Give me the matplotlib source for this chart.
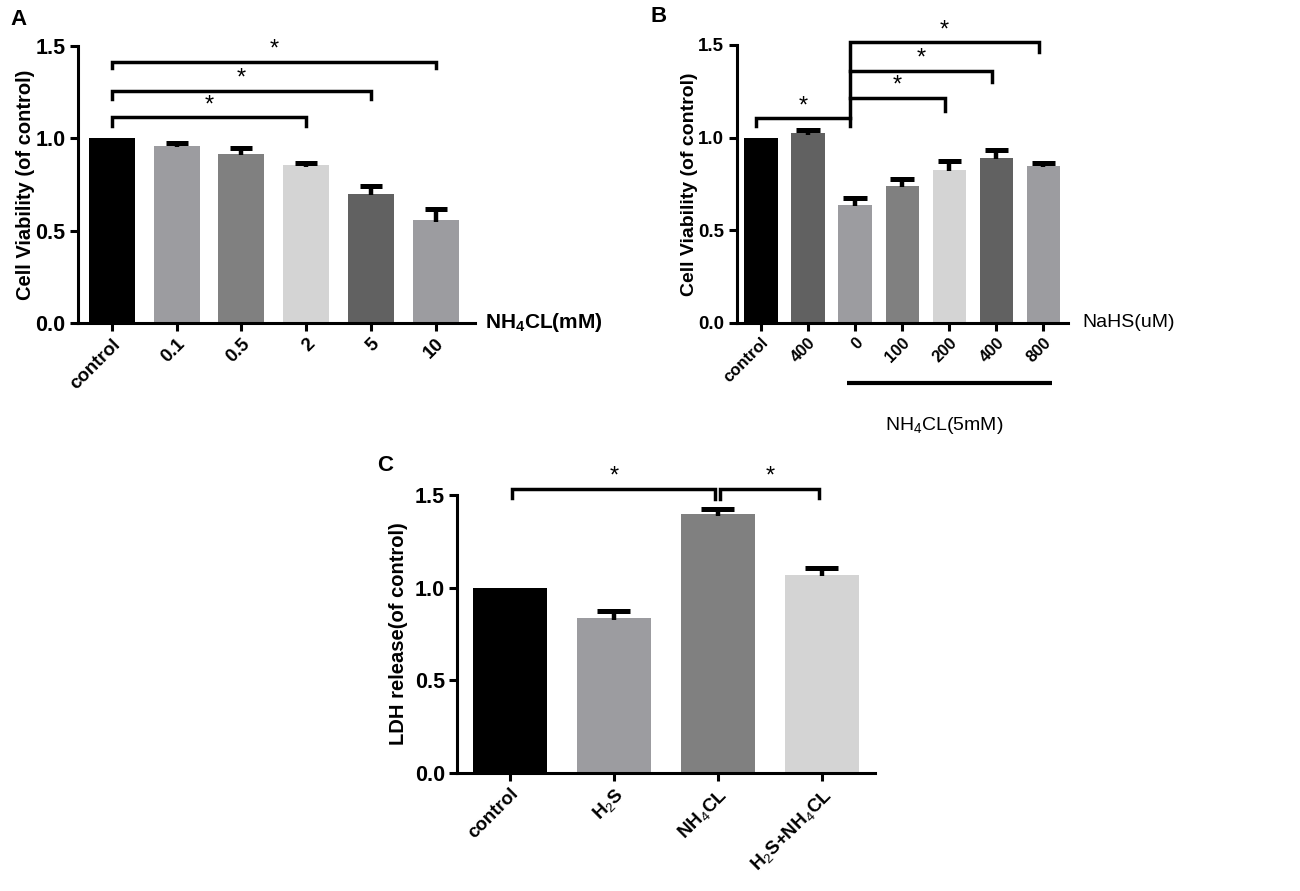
import matplotlib
matplotlib.use("Agg")
import matplotlib.pyplot as plt

plt.rcParams['font.family'] = ['Liberation Sans', 'DejaVu Sans']
plt.rcParams['mathtext.fontset'] = 'custom'
plt.rcParams['mathtext.rm'] = 'Liberation Sans'
plt.rcParams['mathtext.bf'] = 'Liberation Sans:bold'
plt.rcParams['mathtext.it'] = 'Liberation Sans:italic'

# ---- data ----
a_labels = ['control', '0.1', '0.5', '2', '5', '10']
a_values = [1.0, 0.96, 0.915, 0.853, 0.70, 0.555]
a_errors = [0.0, 0.016, 0.032, 0.012, 0.04, 0.062]
a_colors = ['#000000', '#9c9ca0', '#808080', '#d4d4d4', '#616161', '#9c9ca0']

b_labels = ['control', '400', '0', '100', '200', '400', '800']
b_values = [1.0, 1.022, 0.638, 0.74, 0.827, 0.89, 0.849]
b_errors = [0.0, 0.018, 0.036, 0.036, 0.045, 0.042, 0.011]
b_colors = ['#000000', '#616161', '#9c9ca0', '#808080', '#d4d4d4', '#616161', '#9c9ca0']

c_labels = ['control', r'H$_2$S', r'NH$_4$CL', r'H$_2$S+NH$_4$CL']
c_values = [1.0, 0.835, 1.395, 1.07]
c_errors = [0.0, 0.036, 0.03, 0.036]
c_colors = ['#000000', '#9c9ca0', '#808080', '#d4d4d4']

# brackets: (i, j, height, left drop, right drop)
a_brackets = [(0, 3, 1.113, 1.065, 1.065), (0, 4, 1.258, 1.213, 1.213), (0, 5, 1.414, 1.383, 1.383)]
b_brackets = [(0, 2, 1.103, 1.062, 1.062), (2, 4, 1.216, 1.103, 1.143),
              (2, 5, 1.36, 1.216, 1.30), (2, 6, 1.516, 1.36, 1.46)]
c_brackets = [(0, 2, 1.535, 1.485, 1.476), (2, 3, 1.535, 1.476, 1.485)]

fig = plt.figure(figsize=(13, 8.91), dpi=100)

LW = 2.2

def style_axis(ax, xlim, ylabel, labels, yfs=15.5, xfs=13.5, lfs=14.5):
    ax.set_ylim(0, 1.5)
    ax.set_xlim(*xlim)
    for s in ['top', 'right']:
        ax.spines[s].set_visible(False)
    for s in ['left', 'bottom']:
        ax.spines[s].set_linewidth(LW)
    ax.set_yticks([0.0, 0.5, 1.0, 1.5])
    ax.set_yticklabels(['0.0', '0.5', '1.0', '1.5'], fontsize=yfs, fontweight='bold')
    ax.tick_params(axis='both', direction='out', length=6, width=LW, pad=3)
    ax.set_xticks(range(len(labels)))
    ax.set_xticklabels(labels, rotation=45, ha='right', rotation_mode='anchor',
                       fontsize=xfs, fontweight='bold')
    ax.set_ylabel(ylabel, fontsize=lfs, fontweight='bold')


def draw_bars(ax, values, errors, colors, cap_half):
    x = list(range(len(values)))
    ax.bar(x, values, width=0.71, color=colors, edgecolor='none', zorder=2)
    for xi, v, e in zip(x, values, errors):
        if e > 0:
            ax.vlines(xi, v - 0.008, v + e, colors='black', lw=3.2, zorder=3)
            ax.hlines(v + e, xi - cap_half, xi + cap_half, colors='black', lw=3.6, zorder=3)


def draw_brackets(ax, brackets, dx=0.0, gap=0.0):
    for (i, j, h, dl, dr) in brackets:
        xl = i + dx + gap
        xr = j + dx - gap
        ax.plot([xl, xl, xr, xr], [dl, h, h, dr], color='black', lw=LW + 0.3,
                clip_on=False, solid_joinstyle='miter', zorder=4)
        ax.text((xl + xr) / 2, h + 0.005, '*', ha='center', va='bottom',
                fontsize=17, clip_on=False)

# ---- Panel A ----
axA = fig.add_axes([0.06, 0.6375, 0.3054, 0.3109])
draw_bars(axA, a_values, a_errors, a_colors, 0.17)
style_axis(axA, (-0.525, 5.61), 'Cell Viability (of control)', a_labels)
axA.yaxis.set_label_coords(-0.108, 0.5)
draw_brackets(axA, a_brackets)
axA.text(5.77, 0.0, r'NH$_\mathbf{4}$CL(mM)', fontsize=15, fontweight='bold',
         ha='left', va='center', clip_on=False)
fig.text(0.008, 0.978, 'A', fontsize=16, fontweight='bold', va='center')

# ---- Panel B ----
axB = fig.add_axes([0.5667, 0.6378, 0.2548, 0.3117])
draw_bars(axB, b_values, b_errors, b_colors, 0.25)
style_axis(axB, (-0.516, 6.52), 'Cell Viability (of control)', b_labels,
           yfs=13.5, xfs=12, lfs=14)
axB.yaxis.set_label_coords(-0.118, 0.5)
draw_brackets(axB, b_brackets, dx=-0.1)
axB.text(6.82, 0.0, 'NaHS(uM)', fontsize=14, ha='left', va='center', clip_on=False)
axB.plot([1.82, 6.19], [-0.325, -0.325], color='black', lw=LW + 0.8, clip_on=False,
         solid_capstyle='butt')
axB.text(3.9, -0.554, r'NH$_4$CL(5mM)', fontsize=14, ha='center', va='center', clip_on=False)
fig.text(0.5, 0.982, 'B', fontsize=16, fontweight='bold', va='center')

# ---- Panel C ----
axC = fig.add_axes([0.3518, 0.1328, 0.3212, 0.3116])
draw_bars(axC, c_values, c_errors, c_colors, 0.16)
style_axis(axC, (-0.504, 3.51), 'LDH release(of control)', c_labels)
axC.yaxis.set_label_coords(-0.118, 0.5)
draw_brackets(axC, c_brackets, gap=0.025)
fig.text(0.29, 0.478, 'C', fontsize=16, fontweight='bold', va='center')

fig.savefig('out.png', dpi=100)
